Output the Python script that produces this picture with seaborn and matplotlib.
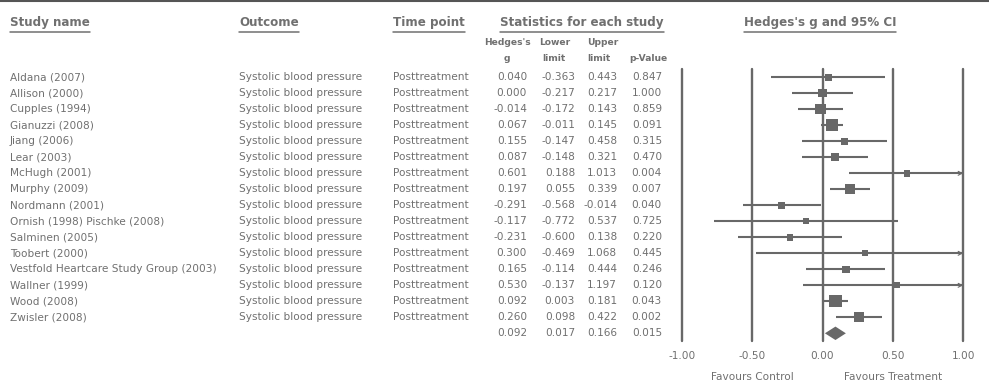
import pandas as pd
import seaborn as sns

import matplotlib
matplotlib.use("Agg")
import matplotlib.pyplot as plt
from matplotlib.lines import Line2D
from matplotlib.transforms import IdentityTransform, blended_transform_factory

# ---- data ----
studies = [
    "Aldana (2007)", "Allison (2000)", "Cupples (1994)", "Gianuzzi (2008)",
    "Jiang (2006)", "Lear (2003)", "McHugh (2001)", "Murphy (2009)",
    "Nordmann (2001)", "Ornish (1998) Pischke (2008)", "Salminen (2005)",
    "Toobert (2000)", "Vestfold Heartcare Study Group (2003)", "Wallner (1999)",
    "Wood (2008)", "Zwisler (2008)",
]
outcome = "Systolic blood pressure"
time_point = "Posttreatment"
hedges_g = [0.040, 0.000, -0.014, 0.067, 0.155, 0.087, 0.601, 0.197,
            -0.291, -0.117, -0.231, 0.300, 0.165, 0.530, 0.092, 0.260]
lower = [-0.363, -0.217, -0.172, -0.011, -0.147, -0.148, 0.188, 0.055,
         -0.568, -0.772, -0.600, -0.469, -0.114, -0.137, 0.003, 0.098]
upper = [0.443, 0.217, 0.143, 0.145, 0.458, 0.321, 1.013, 0.339,
         -0.014, 0.537, 0.138, 1.068, 0.444, 1.197, 0.181, 0.422]
p_value = [0.847, 1.000, 0.859, 0.091, 0.315, 0.470, 0.004, 0.007,
           0.040, 0.725, 0.220, 0.445, 0.246, 0.120, 0.043, 0.002]
weights = [4, 6, 9, 13, 4, 6, 4, 9, 5, 3, 4, 3, 5, 3, 13, 9]

pooled_g = 0.092
pooled_lower = 0.017
pooled_upper = 0.166
pooled_p = 0.015

x_ticks = [-1.0, -0.5, 0.0, 0.5, 1.0]

df = pd.DataFrame({"study": studies, "g": hedges_g, "lower": lower,
                   "upper": upper, "p": p_value, "weight": weights})
df["row"] = range(len(df))
pooled_row = len(df)

# ---- style ----
TXT = "#707070"
LINE = "#686868"
sns.set_theme(style="white")
plt.rcParams["font.family"] = ["DejaVu Sans"]

W, H = 989, 391
fig = plt.figure(figsize=(W / 100, H / 100), dpi=100)

# row scale: row 0 at pixel 77.3, 16 px per row
ROW0, ROWH = 77.3, 16.0
def prow(px):
    return (px - ROW0) / ROWH

# table axes covering the whole figure, y in row units
tab = fig.add_axes([0, 0, 1, 1])
tab.set_xlim(0, W)
tab.set_ylim(prow(H), prow(0))
tab.axis("off")

# forest axes
fx0, fx1 = 681.7, 963.3
fy0, fy1 = ROW0 - ROWH / 2, ROW0 + ROWH * (pooled_row + 0.5)
ax = fig.add_axes([fx0 / W, (H - fy1) / H, (fx1 - fx0) / W, (fy1 - fy0) / H])
ax.set_facecolor("none")

# ---- table text ----
fs = 7.6
for _, r in df.iterrows():
    y = r["row"]
    tab.text(10, y, r["study"], fontsize=fs, color=TXT, va="center", ha="left")
    tab.text(239, y, outcome, fontsize=fs, color=TXT, va="center", ha="left")
    tab.text(393, y, time_point, fontsize=fs, color=TXT, va="center", ha="left")
    tab.text(527, y, f"{r['g']:.3f}", fontsize=fs, color=TXT, va="center", ha="right")
    tab.text(575, y, f"{r['lower']:.3f}", fontsize=fs, color=TXT, va="center", ha="right")
    tab.text(617, y, f"{r['upper']:.3f}", fontsize=fs, color=TXT, va="center", ha="right")
    tab.text(662, y, f"{r['p']:.3f}", fontsize=fs, color=TXT, va="center", ha="right")

for xr, v in zip([527, 575, 617, 662], [pooled_g, pooled_lower, pooled_upper, pooled_p]):
    tab.text(xr, pooled_row, f"{v:.3f}", fontsize=fs, color=TXT, va="center", ha="right")

# headers
hfs = 8.6
headers = [
    (10, "left", "Study name"),
    (239, "left", "Outcome"),
    (393, "left", "Time point"),
    (582, "center", "Statistics for each study"),
    (820, "center", "Hedges's g and 95% CI"),
]
header_txt = []
for xh, ha, s in headers:
    t = tab.text(xh, prow(23), s, fontsize=hfs, fontweight="bold", color=TXT,
                 va="center", ha=ha)
    header_txt.append(t)

sfs = 6.6
sub = [
    (507, prow(43), "center", "Hedges's"), (555, prow(43), "center", "Lower"),
    (587, prow(43), "left", "Upper"),
    (507, prow(59), "center", "g"), (554, prow(59), "center", "limit"),
    (587, prow(59), "left", "limit"), (668, prow(59), "right", "p-Value"),
]
for xs, ys, ha, s in sub:
    tab.text(xs, ys, s, fontsize=sfs, fontweight="bold", color=TXT, va="center", ha=ha)

# ---- forest plot ----
for t in x_ticks:
    ax.axvline(t, color=LINE, lw=1.7, clip_on=False, zorder=1)

for _, r in df.iterrows():
    ax.hlines(r["row"], r["lower"], min(r["upper"], 1), color=LINE, lw=1.5, zorder=2)
    if r["upper"] > 1:
        # open chevron where the interval runs off the scale
        ax.annotate("", xy=(1, r["row"]), xytext=(0.9, r["row"]),
                    arrowprops=dict(arrowstyle="->", color=LINE, lw=0.8,
                                    shrinkA=0, shrinkB=0, mutation_scale=7),
                    annotation_clip=False, zorder=2)

size_map = {w: 5.9 * w for w in sorted(set(weights))}
sns.scatterplot(data=df, x="g", y="row", size="weight", sizes=size_map,
                marker="s", color=LINE, linewidth=0, legend=False, ax=ax, zorder=3)

dh = 0.42
ax.fill([pooled_lower, pooled_g, pooled_upper, pooled_g],
        [pooled_row, pooled_row - dh, pooled_row, pooled_row + dh],
        color=LINE, lw=0, zorder=3)

ax.set_xlim(-1, 1)
ax.set_ylim(pooled_row + 0.5, -0.5)
ax.set_xticks(x_ticks)
ax.set_xticklabels([f"{t:.2f}" for t in x_ticks])
ax.set_yticks([])
ax.set_xlabel("")
ax.set_ylabel("")
ax.tick_params(axis="x", length=0, pad=7, labelsize=fs, labelcolor=TXT)
for sp in ax.spines.values():
    sp.set_visible(False)

btr = blended_transform_factory(ax.transData, ax.transAxes)
fav_y = (fy1 - 377) / (fy1 - fy0)
ax.text(-0.5, fav_y, "Favours Control", transform=btr, fontsize=fs, color=TXT,
        ha="center", va="center")
ax.text(0.5, fav_y, "Favours Treatment", transform=btr, fontsize=fs, color=TXT,
        ha="center", va="center")

# top border
fig.add_artist(Line2D([0, 1], [1 - 1 / H, 1 - 1 / H], transform=fig.transFigure,
                      color="#555555", lw=1.5))

# underline headers
fig.canvas.draw()
renderer = fig.canvas.get_renderer()
for t in header_txt:
    bb = t.get_window_extent(renderer)
    fig.add_artist(Line2D([bb.x0, bb.x1], [H - 32, H - 32], transform=IdentityTransform(),
                          color=TXT, lw=1.1))

fig.savefig("out.png", dpi=100)
